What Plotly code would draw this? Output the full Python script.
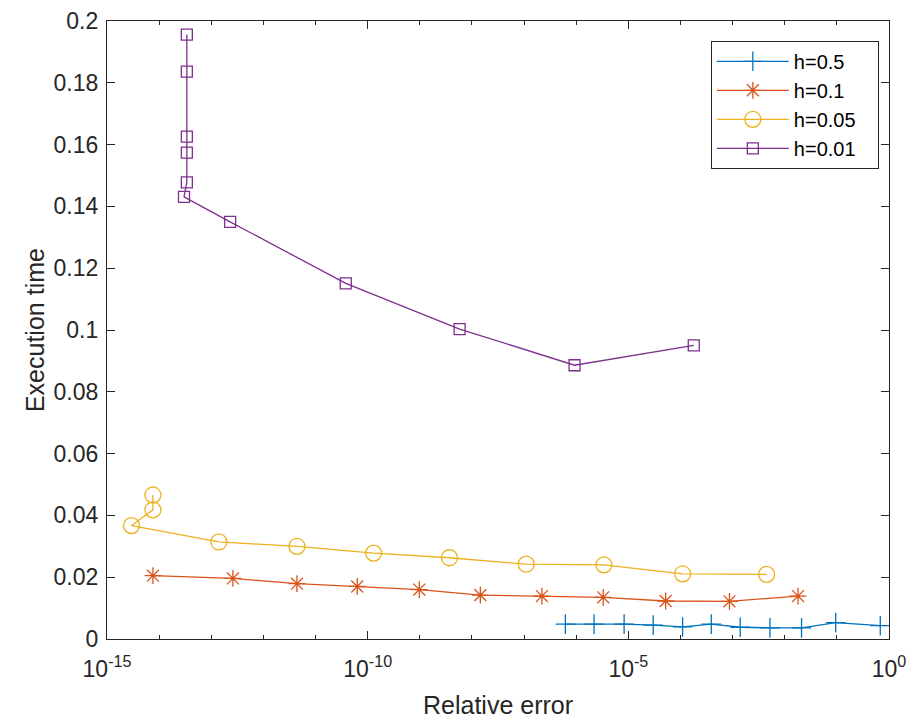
import plotly.graph_objects as go

# ---- data ----
err_h05 = [6.2e-7, 2.2e-6, 8.3e-6, 3.0e-5, 1.1e-4, 3.9e-4, 1.4e-3, 5.2e-3, 2.1e-2, 9.5e-2, 0.68]
time_h05 = [0.0048, 0.0048, 0.0048, 0.0045, 0.0039, 0.0048, 0.0038, 0.0036, 0.0036, 0.0053, 0.0043]

err_h01 = [7.6e-15, 2.6e-13, 4.4e-12, 6.3e-11, 9.8e-10, 1.45e-8, 2.2e-7, 3.3e-6, 5.2e-5, 8.7e-4, 1.8e-2]
time_h01 = [0.0205, 0.0196, 0.0179, 0.0170, 0.0160, 0.0142, 0.0139, 0.0135, 0.0123, 0.0122, 0.0139]

err_h005 = [7.6e-15, 7.6e-15, 2.95e-15, 1.4e-13, 4.4e-12, 1.3e-10, 3.7e-9, 1.1e-7, 3.4e-6, 1.1e-4, 4.5e-3]
time_h005 = [0.0466, 0.0418, 0.0367, 0.0314, 0.0300, 0.0278, 0.0263, 0.0242, 0.0240, 0.0211, 0.0209]

err_h001 = [3.4e-14, 3.4e-14, 3.4e-14, 3.4e-14, 3.4e-14, 3.0e-14, 2.3e-13, 3.8e-11, 5.8e-9, 9.3e-7, 1.8e-4]
time_h001 = [0.1956, 0.1836, 0.1626, 0.1574, 0.1478, 0.1431, 0.1350, 0.1151, 0.1003, 0.0886, 0.0950]

labels = ["h=0.5", "h=0.1", "h=0.05", "h=0.01"]
x_tick_vals = [1e-15, 1e-10, 1e-5, 1]
x_tick_text = ["10<sup>-15</sup>", "10<sup>-10</sup>", "10<sup>-5</sup>", "10<sup>0</sup>"]
x_minor_vals = [10.0 ** k for k in range(-15, 1)]

colors = ["#0072BD", "#D95319", "#EDB120", "#7E2F8E"]
symbols = ["cross-thin-open", "asterisk-open", "circle-open", "square-open"]
sizes = [14, 14, 16, 11]

series = [(err_h05, time_h05), (err_h01, time_h01), (err_h005, time_h005), (err_h001, time_h001)]

FONT = "Liberation Sans, Arial, Helvetica, sans-serif"
AX = "#262626"
PAD = "\u00a0" * 3

fig = go.Figure()
for i, (xs, ys) in enumerate(series):
    fig.add_trace(go.Scatter(
        x=xs, y=ys, mode="lines+markers", name=labels[i] + PAD,
        line=dict(color=colors[i], width=1.3),
        marker=dict(symbol=symbols[i], size=sizes[i], color=colors[i],
                    line=dict(color=colors[i], width=1.3)),
    ))

fig.update_layout(
    width=910, height=718,
    margin=dict(l=107, r=21, t=21, b=79, autoexpand=False),
    paper_bgcolor="white", plot_bgcolor="white",
    font=dict(family=FONT, size=23, color=AX),
    showlegend=True,
    legend=dict(
        x=0.987, y=0.968, xanchor="right", yanchor="top",
        bgcolor="white", bordercolor=AX, borderwidth=1,
        font=dict(family=FONT, size=20, color="#000000"),
        itemwidth=72, tracegroupgap=3,
    ),
    annotations=[
        dict(text="Relative error", xref="paper", yref="paper", x=0.5, y=-0.107,
             xanchor="center", yanchor="middle", showarrow=False,
             font=dict(family=FONT, size=25, color=AX)),
        dict(text="Execution time", xref="paper", yref="paper", x=-0.092, y=0.5,
             xanchor="center", yanchor="middle", showarrow=False, textangle=-90,
             font=dict(family=FONT, size=25, color=AX)),
    ],
)

fig.update_xaxes(
    type="log", range=[-15, 0], automargin=False,
    tickmode="array", tickvals=x_tick_vals, ticktext=x_tick_text,
    ticks="inside", ticklen=8, tickwidth=1, tickcolor=AX,
    ticklabelstandoff=9,
    minor=dict(ticks="inside", ticklen=4, tickwidth=1, tickcolor=AX,
               tickmode="array", tickvals=x_minor_vals, showgrid=False),
    showline=True, linecolor=AX, linewidth=1.2, mirror="allticks",
    showgrid=False, zeroline=False,
    tickfont=dict(family=FONT, size=23, color=AX),
)
fig.update_yaxes(
    range=[0, 0.2], dtick=0.02, tick0=0, automargin=False,
    ticks="inside", ticklen=8, tickwidth=1, tickcolor=AX,
    ticklabelstandoff=3,
    showline=True, linecolor=AX, linewidth=1.2, mirror="allticks",
    showgrid=False, zeroline=False,
    tickfont=dict(family=FONT, size=23, color=AX),
)

fig.write_html(
    "out.html",
    config={"displayModeBar": False},
    post_script="document.body.style.margin='0';document.body.style.padding='0';",
)
